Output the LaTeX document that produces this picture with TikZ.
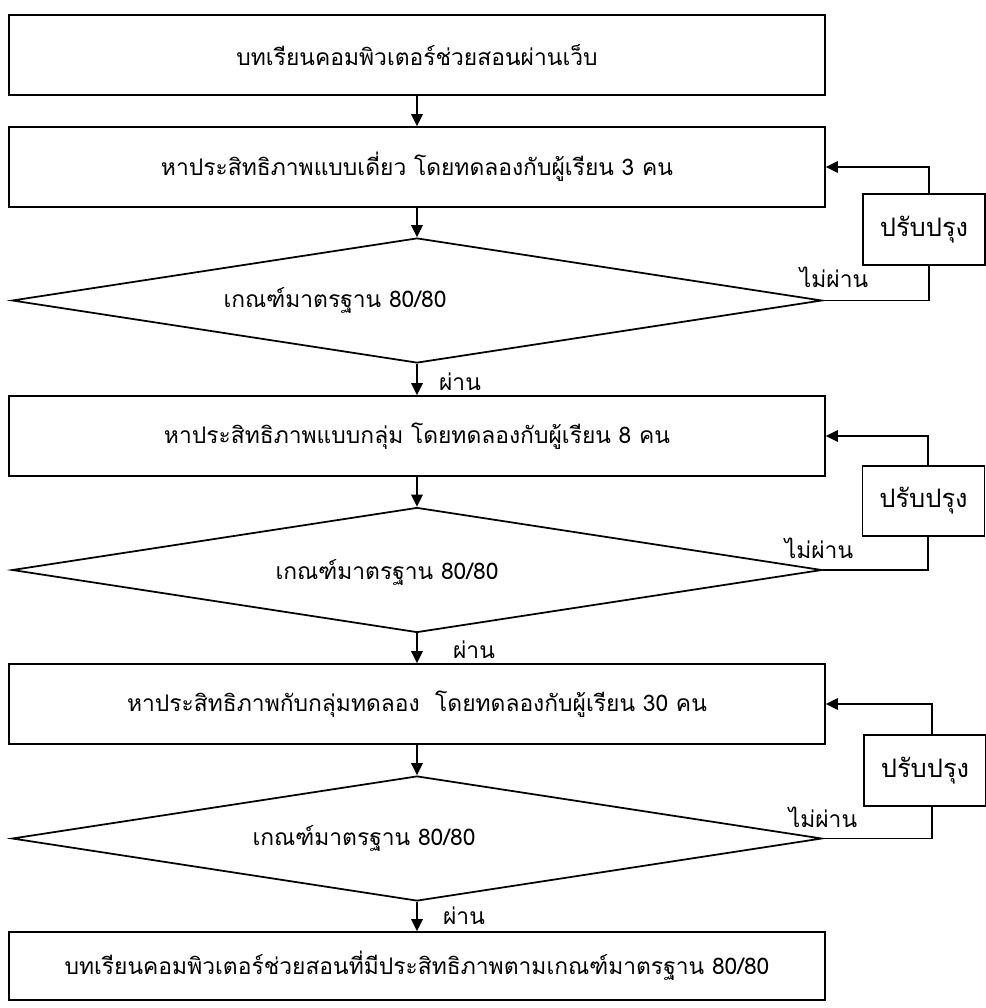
\documentclass[tikz,border=0pt]{standalone}
\usepackage{fontspec}
\newfontfamily\thai[Script=Thai]{Loma}
\usetikzlibrary{arrows.meta,shapes.geometric}
\begin{document}
\begin{tikzpicture}[x=0.02cm,y=-0.02cm,
  every node/.style={font=\thai\fontsize{13}{15}\selectfont},
  mainbox/.style={draw,line width=1pt,rectangle,minimum width=16.32cm,minimum height=1.6cm,inner sep=0pt},
  decbox/.style={draw,line width=1pt,diamond,minimum width=16.2cm,minimum height=2.5cm,inner sep=0pt},
  fixbox/.style={draw,line width=1pt,rectangle,minimum width=2.44cm,minimum height=1.42cm,inner sep=0pt,font=\thai\fontsize{14.5}{16}\selectfont},
  lbl/.style={inner sep=0pt},
  arr/.style={line width=1pt,-{Triangle[length=2.4mm,width=2.3mm]}},
  ln/.style={line width=1pt}]
\useasboundingbox (0,0) rectangle (986,1008);
% main column
\node[mainbox] (b1) at (417,55) {บทเรียนคอมพิวเตอร์ช่วยสอนผ่านเว็บ};
\node[mainbox] (b2) at (417,167) {หาประสิทธิภาพแบบเดี่ยว โดยทดลองกับผู้เรียน 3 คน};
\node[decbox] (d1) at (417,300.5) {};
\node[lbl] (t1) at (335,300) {เกณฑ์มาตรฐาน 80/80};
\node[mainbox] (b3) at (417,436) {หาประสิทธิภาพแบบกลุ่ม โดยทดลองกับผู้เรียน 8 คน};
\node[decbox] (d2) at (417,570) {};
\node[lbl] (t2) at (387,572) {เกณฑ์มาตรฐาน 80/80};
\node[mainbox] (b4) at (417,704) {หาประสิทธิภาพกับกลุ่มทดลอง\ \ โดยทดลองกับผู้เรียน 30 คน};
\node[decbox] (d3) at (417,838.5) {};
\node[lbl] (t3) at (364,838) {เกณฑ์มาตรฐาน 80/80};
\node[mainbox,minimum height=1.36cm] (b5) at (417,966) {บทเรียนคอมพิวเตอร์ช่วยสอนที่มีประสิทธิภาพตามเกณฑ์มาตรฐาน 80/80};
% improvement boxes
\node[fixbox] (fA) at (924,229.5) {ปรับปรุง};
\node[fixbox,minimum height=1.4cm] (fB) at (923.5,501) {ปรับปรุง};
\node[fixbox] (fC) at (925,770.5) {ปรับปรุง};
\coordinate (vA) at (929,0);
\coordinate (vB) at (928,0);
\coordinate (vC) at (932,0);
% labels
\node[lbl] (p1) at (460,382) {ผ่าน};
\node[lbl] (p2) at (474,650) {ผ่าน};
\node[lbl] (p3) at (464,916) {ผ่าน};
\node[lbl] (n1) at (834,277) {ไม่ผ่าน};
\node[lbl] (n2) at (819,548) {ไม่ผ่าน};
\node[lbl] (n3) at (823,817) {ไม่ผ่าน};
% main arrows
\draw[arr] (b1) -- (b2);
\draw[arr] (b2) -- (d1);
\draw[arr] (d1) -- (b3);
\draw[arr] (b3) -- (d2);
\draw[arr] (d2) -- (b4);
\draw[arr] (b4) -- (d3);
\draw[arr] (d3) -- (b5);
% feedback loops
\draw[ln] (d1.east) -- (d1.east -| vA) -- (fA.south -| vA);
\draw[arr] (fA.north -| vA) -- (b2.east -| vA) -- (b2.east);
\draw[ln] (d2.east) -- (d2.east -| vB) -- (fB.south -| vB);
\draw[arr] (fB.north -| vB) -- (b3.east -| vB) -- (b3.east);
\draw[ln] (d3.east) -- (d3.east -| vC) -- (fC.south -| vC);
\draw[arr] (fC.north -| vC) -- (b4.east -| vC) -- (b4.east);
\end{tikzpicture}
\end{document}
